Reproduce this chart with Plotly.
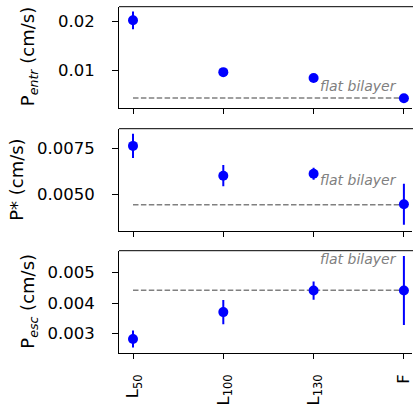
import plotly.graph_objects as go

categories = ["L<sub>50</sub>", "L<sub>100</sub>", "L<sub>130</sub>", "F"]

p_entr = [0.0202, 0.0097, 0.00852, 0.0044]
p_entr_err = [0.0018, 0.0003, 0.0003, 0.0002]
p_star = [0.00763, 0.0060, 0.00611, 0.00444]
p_star_err = [0.00066, 0.00058, 0.00033, 0.00112]
p_esc = [0.00281, 0.0037, 0.00441, 0.00441]
p_esc_err = [0.00028, 0.0004, 0.0003, 0.00114]

flat_entr = 0.00445
flat_star = 0.00442
flat_esc = 0.00442

ylabels = ["P<sub><i>entr</i></sub> (cm/s)", "P* (cm/s)", "P<sub><i>esc</i></sub> (cm/s)"]
yticks = [[0.01, 0.02], [0.005, 0.0075], [0.003, 0.004, 0.005]]
yfmt = [".2f", ".4f", ".3f"]
yranges = [[0.0025, 0.02296], [0.00298, 0.00857], [0.00236, 0.005726]]
flat_label = "flat bilayer"

W, H = 413, 408
ML, MT, MB = 119, 6, 55
plot_h = H - MT - MB
panels_px = [(6.7, 107.7), (128.7, 231.0), (250.7, 352.7)]
def dom(top, bot):
    return [(H - MB - bot) / plot_h, (H - MB - top) / plot_h]

fig = go.Figure()
tickfont = dict(family="DejaVu Sans", size=16.5, color="black")
labfont = dict(family="DejaVu Sans", size=18, color="black")
XD = 0.995
step_px = 90.3
x0 = -0.155
xr = [x0, x0 + XD * (W - ML) / step_px]

series = [(p_entr, p_entr_err, flat_entr), (p_star, p_star_err, flat_star), (p_esc, p_esc_err, flat_esc)]
text_y_px = [86.5, 180.0, 259.0]
label_x_px = [29, 17, 29]

for i, (vals, errs, flat) in enumerate(series):
    n = i + 1
    xa = "x" if n == 1 else f"x{n}"
    ya = "y" if n == 1 else f"y{n}"
    fig.add_trace(go.Scatter(
        x=[categories[0], categories[-1]], y=[flat, flat], xaxis=xa, yaxis=ya,
        mode="lines", line=dict(color="#808080", width=1.5, dash="5.5px,2.4px"),
        hoverinfo="skip", showlegend=False))
    fig.add_trace(go.Scatter(
        x=categories, y=vals, xaxis=xa, yaxis=ya, mode="markers",
        marker=dict(color="#0000ff", size=10),
        error_y=dict(type="data", array=errs, color="#0000ff", thickness=2, width=0),
        showlegend=False, cliponaxis=False))
    top, bot = panels_px[i]
    d = dom(top, bot)
    xkw = dict(type="category", categoryorder="array", categoryarray=categories,
               range=xr, showline=True, linecolor="black", linewidth=1, mirror=False,
               ticks="outside", ticklen=5, tickwidth=1, tickcolor="black",
               showgrid=False, zeroline=False, tickfont=tickfont, tickangle=-90,
               ticklabelstandoff=9,
               showticklabels=(n == 3), domain=[0, XD], anchor=ya, fixedrange=True)
    if n != 1:
        xkw["matches"] = "x"
    ykw = dict(range=yranges[i], domain=d, anchor=xa, showline=True, linecolor="black",
               linewidth=1, ticks="outside", ticklen=6, tickwidth=1, tickcolor="black",
               showgrid=False, zeroline=False, tickfont=tickfont, tickvals=yticks[i],
               tickformat=yfmt[i], ticklabelstandoff=14, fixedrange=True)
    fig.layout["xaxis" if n == 1 else f"xaxis{n}"] = xkw
    fig.layout["yaxis" if n == 1 else f"yaxis{n}"] = ykw
    fig.add_shape(type="line", xref="paper", yref="paper", x0=0, x1=1, y0=d[1], y1=d[1],
                  line=dict(color="black", width=1))
    fig.add_annotation(xref="paper", yref="paper",
                       x=(399 - ML) / (W - ML), y=(H - MB - text_y_px[i]) / plot_h,
                       xanchor="right", yanchor="middle", text=f"<i>{flat_label}</i>",
                       showarrow=False, font=dict(family="DejaVu Sans", size=14, color="#808080"))
    fig.add_annotation(xref="paper", yref="paper",
                       x=(label_x_px[i] - ML) / (W - ML), y=(H - MB - (top + bot) / 2) / plot_h,
                       xanchor="center", yanchor="middle", text=ylabels[i], textangle=-90,
                       showarrow=False, font=labfont)

fig.update_layout(width=W, height=H, margin=dict(l=ML, r=0, t=MT, b=MB, autoexpand=False),
                  plot_bgcolor="white", paper_bgcolor="white", showlegend=False)
fig.write_html("out.html")
